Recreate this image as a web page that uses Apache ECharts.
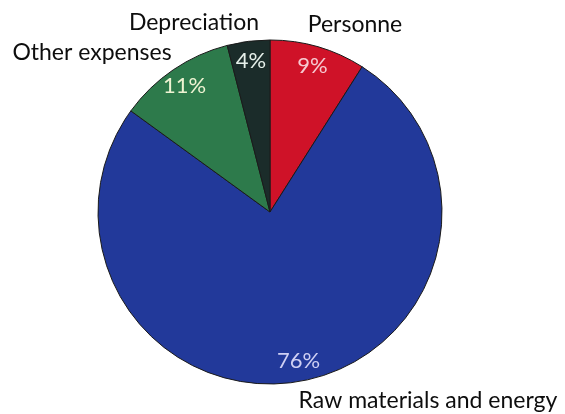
<!DOCTYPE html>
<html>
<head>
<meta charset="utf-8">
<script src="https://cdn.jsdelivr.net/npm/echarts@6/dist/echarts.min.js"></script>
<style>html,body{margin:0;padding:0;background:#fff;}#c{width:565px;height:414px;}</style>
</head>
<body>
<div id="c"></div>
<script>
const categories = ['Personne', 'Raw materials and energy', 'Other expenses', 'Depreciation'];
const values = [9, 76, 11, 4];
const percentLabels = ['9%', '76%', '11%', '4%'];
const sliceColors = ['#cf1228', '#22399a', '#2d7a4b', '#1b2c2a'];
const percentColors = ['#f6c9d0', '#cfd0f4', '#eef3d2', '#e6f0ea'];
// name label anchor points (label layout, in px)
const nameLabelPos = [[355, 25], [428, 401], [92, 53], [194, 23]];

const chart = echarts.init(document.getElementById('c'));
const FONT = 'Lato';
chart.setOption({
  backgroundColor: '#fff',
  animation: false,
  series: [
    {
      type: 'pie',
      center: [270, 212],
      radius: [0, 172],
      startAngle: 90,
      clockwise: true,
      silent: true,
      itemStyle: { borderColor: '#1a1a1a', borderWidth: 1 },
      label: {
        show: true, position: 'outside', color: '#0d0d0d',
        fontFamily: FONT, fontSize: 23, overflow: 'none',
        formatter: p => p.name
      },
      labelLine: { show: false },
      labelLayout: function (p) {
        const pos = nameLabelPos[p.dataIndex];
        return { x: pos[0], y: pos[1], align: 'center', verticalAlign: 'middle' };
      },
      data: categories.map((c, i) => ({ name: c, value: values[i], itemStyle: { color: sliceColors[i] } }))
    },
    {
      type: 'pie',
      center: [270, 212],
      radius: [126, 172],
      startAngle: 90,
      clockwise: true,
      silent: true,
      itemStyle: { color: 'rgba(0,0,0,0)', borderWidth: 0 },
      label: {
        show: true, position: 'inside',
        fontFamily: FONT, fontSize: 22,
        formatter: p => percentLabels[p.dataIndex]
      },
      labelLine: { show: false },
      data: categories.map((c, i) => ({ name: c, value: values[i], label: { color: percentColors[i] } }))
    }
  ]
});
</script>
</body>
</html>
